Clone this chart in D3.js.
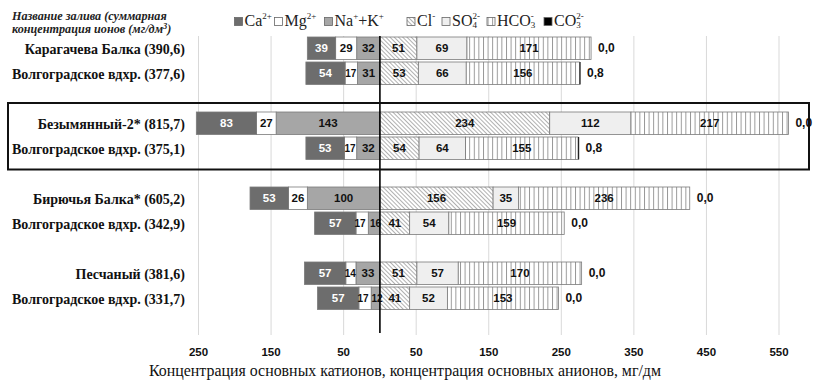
<!DOCTYPE html>
<html>
<head>
<meta charset="utf-8">
<script src="https://cdn.jsdelivr.net/npm/d3@7"></script>
</head>
<body style="margin:0">
<svg id="chart" width="813" height="380"></svg>
<script>
// Bays and the matching reservoir reference points (total ion concentration, mg/dm3)
const categories = [
  "Карагачева Балка (390,6)", "Волгоградское вдхр. (377,6)",
  "Безымянный-2* (815,7)", "Волгоградское вдхр. (375,1)",
  "Бирючья Балка* (605,2)", "Волгоградское вдхр. (342,9)",
  "Песчаный (381,6)", "Волгоградское вдхр. (331,7)"
];
// Cations (drawn to the left of zero)
const ca   = [39, 54, 83, 53, 53, 57, 57, 57];
const mg   = [29, 17, 27, 17, 26, 17, 14, 17];
const naK  = [32, 31, 143, 32, 100, 16, 33, 12];
// Anions (drawn to the right of zero)
const cl   = [51, 53, 234, 54, 156, 41, 51, 41];
const so4  = [69, 66, 112, 64, 35, 54, 57, 52];
const hco3 = [171, 156, 217, 155, 236, 159, 170, 153];
const co3  = [0.0, 0.8, 0.0, 0.8, 0.0, 0.0, 0.0, 0.0];
// Axis ticks
const tickValues = [-250, -150, -50, 50, 150, 250, 350, 450, 550];
// Rows that belong to the framed group
const framedRows = [2, 3];

const SERIF = "'Liberation Serif'";
const SANS = "'Liberation Sans'";

const svg = d3.select("#chart");
const defs = svg.append("defs");

// Hatch for Cl-
const pCl = defs.append("pattern").attr("id", "pCl").attr("patternUnits", "userSpaceOnUse")
  .attr("width", 3).attr("height", 3).attr("patternTransform", "rotate(-45)");
pCl.append("rect").attr("width", 3).attr("height", 3).attr("fill", "#fff");
pCl.append("line").attr("x1", 0.5).attr("y1", 0).attr("x2", 0.5).attr("y2", 3)
  .attr("stroke", "#a8a8a8").attr("stroke-width", 0.9);
// Vertical stripes for HCO3-
const pH = defs.append("pattern").attr("id", "pH").attr("patternUnits", "userSpaceOnUse")
  .attr("width", 4.6).attr("height", 10);
pH.append("rect").attr("width", 4.6).attr("height", 10).attr("fill", "#fff");
pH.append("line").attr("x1", 0.5).attr("y1", 0).attr("x2", 0.5).attr("y2", 10)
  .attr("stroke", "#8a8a8a").attr("stroke-width", 0.9);

// Slots: pairs of rows separated by an empty slot
const slots = [];
categories.forEach((c, i) => {
  slots.push("r" + i);
  if (i % 2 === 1 && i < categories.length - 1) slots.push("gap" + i);
});

const x = d3.scaleLinear().domain([-250, 550]).range([198.5, 779]);
const y = d3.scaleBand().domain(slots).range([35.75, 310.75])
  .paddingInner(0.1).paddingOuter(0.05);
const bw = y.bandwidth();

// Gridlines
const gridTop = 36, gridBottom = 335;
svg.append("g").selectAll("line").data(tickValues).join("line")
  .attr("x1", d => x(d)).attr("x2", d => x(d))
  .attr("y1", gridTop).attr("y2", gridBottom)
  .attr("stroke", "#d9d9d9").attr("stroke-width", 1);

// Segments
const series = [
  { key: "ca",   vals: ca,   fill: "#6d6d6d", text: "#fff" },
  { key: "mg",   vals: mg,   fill: "#ffffff", text: "#111" },
  { key: "naK",  vals: naK,  fill: "#a6a6a6", text: "#111" },
  { key: "cl",   vals: cl,   fill: "url(#pCl)", text: "#111" },
  { key: "so4",  vals: so4,  fill: "#efefef", text: "#111" },
  { key: "hco3", vals: hco3, fill: "url(#pH)", text: "#111" },
  { key: "co3",  vals: co3,  fill: "#000", text: "#111" }
];
const byKey = k => series.find(s => s.key === k);

const segs = [];
categories.forEach((c, i) => {
  // cations stack outward from zero: Na+K, Mg, Ca
  let left = 0;
  ["naK", "mg", "ca"].forEach(k => {
    const s = byKey(k), v = s.vals[i];
    segs.push({ row: i, s, v, x0: -(left + v), x1: -left });
    left += v;
  });
  let right = 0;
  ["cl", "so4", "hco3", "co3"].forEach(k => {
    const s = byKey(k), v = s.vals[i];
    segs.push({ row: i, s, v, x0: right, x1: right + v });
    right += v;
  });
});

const gBars = svg.append("g");
gBars.selectAll("rect").data(segs.filter(d => d.s.key !== "co3")).join("rect")
  .attr("x", d => x(d.x0)).attr("width", d => x(d.x1) - x(d.x0))
  .attr("y", d => y("r" + d.row)).attr("height", bw)
  .attr("fill", d => d.s.fill)
  .attr("stroke", "#7a7a7a").attr("stroke-width", 0.8);
// CO3 (very small, drawn as a thin dark bar)
gBars.selectAll("rect.co3").data(segs.filter(d => d.s.key === "co3" && d.v > 0)).join("rect")
  .attr("class", "co3")
  .attr("x", d => x(d.x0)).attr("width", d => Math.max(1.2, x(d.x1) - x(d.x0)))
  .attr("y", d => y("r" + d.row)).attr("height", bw)
  .attr("fill", "#222");

// Segment labels; narrow segments get a smaller font and are nudged apart
const labelSegs = segs.filter(d => d.s.key !== "co3").map(d => {
  const w = x(d.x1) - x(d.x0);
  let cx = (x(d.x0) + x(d.x1)) / 2;
  const narrow = w < 14;
  if (narrow && d.s.key === "naK") cx += 1.5;
  if (narrow && d.s.key === "mg") cx -= 0.5;
  if (d.s.key === "mg" && byKey("naK").vals[d.row] * (x(1) - x(0)) < 14) cx -= 1.5;
  return Object.assign({}, d, { cx, narrow });
});
svg.append("g").selectAll("text").data(labelSegs).join("text")
  .style("font-family", SANS)
  .attr("x", d => d.cx)
  .attr("y", d => y("r" + d.row) + bw / 2 + 4)
  .attr("text-anchor", "middle")
  .attr("font-size", d => d.narrow ? 10 : 11.5).attr("font-weight", "bold")
  .attr("fill", d => d.s.text)
  .text(d => d.v);

// CO3 value after each bar
const fmt = v => d3.format(".1f")(v).replace(".", ",");
svg.append("g").selectAll("text").data(segs.filter(d => d.s.key === "co3")).join("text")
  .style("font-family", SANS)
  .attr("x", d => x(d.x1) + 7)
  .attr("y", d => y("r" + d.row) + bw / 2 + 4)
  .attr("font-size", 12).attr("font-weight", "bold")
  .attr("fill", "#111")
  .text(d => fmt(d.v));

// Zero line
svg.append("line")
  .attr("x1", x(0)).attr("x2", x(0)).attr("y1", gridTop).attr("y2", 333)
  .attr("stroke", "#000").attr("stroke-width", 1.6);

// Row labels
svg.append("g").selectAll("text").data(categories).join("text")
  .style("font-family", SERIF)
  .attr("x", 185)
  .attr("y", (d, i) => y("r" + i) + bw / 2 + 5.5)
  .attr("text-anchor", "end")
  .attr("font-size", 14).attr("font-weight", "bold")
  .attr("fill", "#111")
  .text(d => d);

// Frame around the highlighted pair
const fy0 = y("r" + framedRows[0]) - 9;
const fy1 = y("r" + framedRows[1]) + bw + 10;
svg.append("rect")
  .attr("x", 8).attr("y", fy0).attr("width", 801).attr("height", fy1 - fy0)
  .attr("fill", "none").attr("stroke", "#111").attr("stroke-width", 2);

// Tick labels (absolute values on both sides)
svg.append("g").selectAll("text").data(tickValues).join("text")
  .style("font-family", SANS)
  .attr("x", d => x(d)).attr("y", 356)
  .attr("text-anchor", "middle")
  .attr("font-size", 11.5).attr("font-weight", "bold")
  .attr("fill", "#111")
  .text(d => Math.abs(d));

// Axis title
svg.append("text")
  .style("font-family", SERIF)
  .attr("x", 405).attr("y", 376)
  .attr("text-anchor", "middle")
  .attr("font-size", 15.9).attr("fill", "#111")
  .text("Концентрация основных катионов, концентрация основных анионов, мг/дм");

// Header for the row labels
const hdr = svg.append("text")
  .style("font-family", SERIF)
  .attr("font-size", 12.2).attr("font-weight", "bold").attr("font-style", "italic")
  .attr("fill", "#222");
hdr.append("tspan").attr("x", 12).attr("y", 20).text("Название залива (суммарная");
hdr.append("tspan").attr("x", 12).attr("y", 33).text("концентрация ионов (мг/дм");
hdr.append("tspan").attr("dy", -4).attr("font-size", 8.5).text("3");
hdr.append("tspan").attr("dy", 4).text(")");

// Legend: marker + formula with charge (superscript) and index (subscript)
const legendItems = [
  { x: 234.5, fill: "#6d6d6d", parts: [["Ca", 0], ["2+", 1]] },
  { x: 274.5, fill: "#ffffff", parts: [["Mg", 0], ["2+", 1]] },
  { x: 324.5, fill: "#a6a6a6", parts: [["Na", 0], ["+", 1], ["+K", 0], ["+", 1]] },
  { x: 407, fill: "url(#pCl)", parts: [["Cl", 0], ["-", 1]] },
  { x: 442, fill: "#efefef", parts: [["SO", 0], ["4", -1], ["2-", 1]] },
  { x: 487, fill: "url(#pH)", parts: [["HCO", 0], ["3", -1], ["-", 1]] },
  { x: 544, fill: "#000", parts: [["CO", 0], ["3", -1], ["2-", 1]] }
];
const legY = 26;
const shift = { "0": 0, "1": -7, "-1": 2 };
const lg = svg.append("g");
legendItems.forEach(it => {
  lg.append("rect").attr("x", it.x).attr("y", legY - 8.5).attr("width", 8).attr("height", 8)
    .attr("fill", it.fill).attr("stroke", "#666").attr("stroke-width", 0.8);
  const t = lg.append("text").style("font-family", SERIF)
    .attr("x", it.x + 10).attr("y", legY).attr("font-size", 16).attr("fill", "#222");
  let level = 0, prevSub = 0;
  it.parts.forEach(([txt, lv]) => {
    const ts = t.append("tspan").text(txt);
    ts.attr("dy", shift[lv] - shift[level]);
    if (lv !== 0) ts.attr("font-size", 9);
    // a charge written directly over an index
    if (lv === 1 && level === -1) ts.attr("dx", -prevSub);
    prevSub = lv === -1 ? txt.length * 4.5 : 0;
    level = lv;
  });
});
</script>
</body>
</html>
